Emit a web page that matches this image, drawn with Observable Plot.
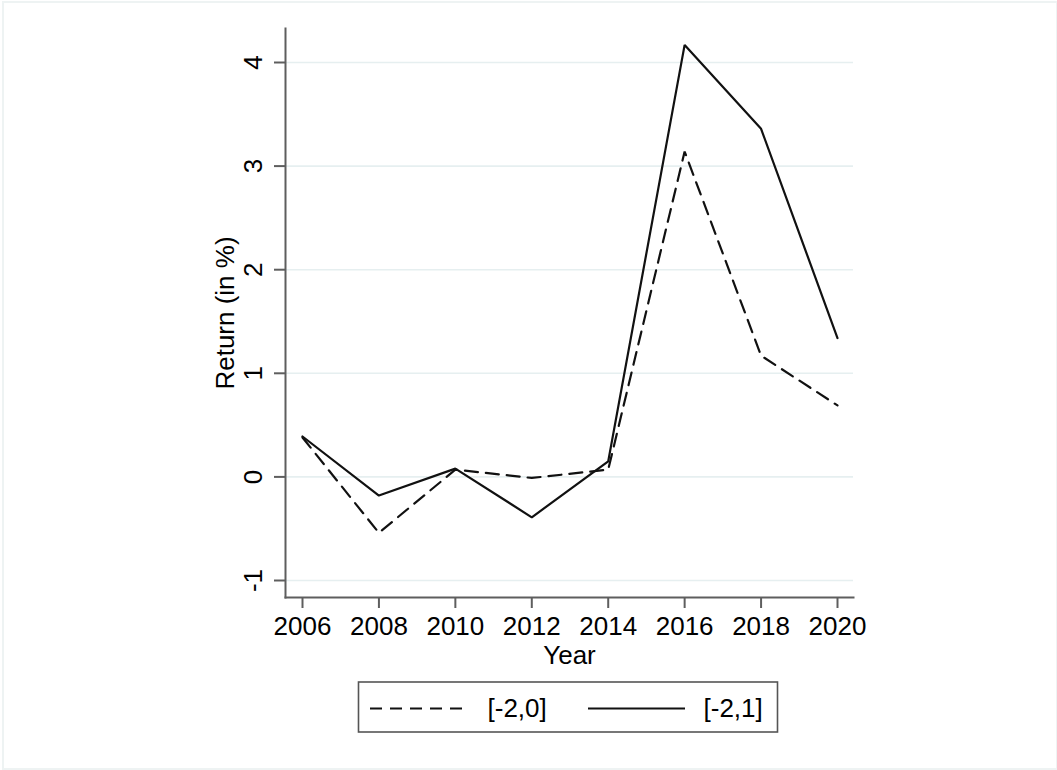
<!DOCTYPE html>
<html>
<head>
<meta charset="utf-8">
<script src="https://cdn.jsdelivr.net/npm/d3@7"></script>
<script src="https://cdn.jsdelivr.net/npm/@observablehq/plot@0.6"></script>
<style>
  html, body { margin: 0; padding: 0; background: #fff; }
  #wrap { position: relative; width: 1057px; height: 770px; overflow: hidden; font-family: "Liberation Sans", Arial, sans-serif; }
  #border { position: absolute; left: 2px; top: 1px; width: 1052px; height: 765px; border: 2px solid #eef3f3; box-sizing: content-box; }
  #chart { position: absolute; left: 0; top: 0; }
  #legend { position: absolute; left: 0; top: 680px; }
</style>
</head>
<body>
<div id="wrap">
  <div id="border"></div>
  <div id="chart"></div>
  <div id="legend"></div>
</div>
<script>
const years = [2006, 2008, 2010, 2012, 2014, 2016, 2018, 2020];
const seriesNames = ["[-2,0]", "[-2,1]"];
const ret20 = [0.38, -0.54, 0.07, -0.01, 0.07, 3.14, 1.17, 0.69];
const ret21 = [0.39, -0.18, 0.08, -0.39, 0.15, 4.17, 3.36, 1.34];
const yTicks = [-1, 0, 1, 2, 3, 4];
const yTickLabels = ["-1", "0", "1", "2", "3", "4"];
const xTicks = [2006, 2008, 2010, 2012, 2014, 2016, 2018, 2020];

const data = [
  ...years.map((y, i) => ({year: y, value: ret20[i], series: seriesNames[0]})),
  ...years.map((y, i) => ({year: y, value: ret21[i], series: seriesNames[1]}))
];

const font = "Liberation Sans, Arial, sans-serif";
const fs = 26;

const plot = Plot.plot({
  width: 1057,
  height: 680,
  marginLeft: 285,
  marginRight: 204,
  marginTop: 28,
  marginBottom: 83,
  style: {fontFamily: font, background: "transparent", overflow: "visible"},
  x: {domain: [2006, 2020], range: [302, 837], axis: null},
  y: {domain: [-1, 4], range: [580, 62], axis: null},
  marks: [
    Plot.gridY(yTicks, {stroke: "#e6eff0", strokeOpacity: 1, strokeWidth: 1.6}),
    Plot.frame({anchor: "left", stroke: "#5e5e5e", strokeWidth: 2}),
    Plot.frame({anchor: "bottom", stroke: "#5e5e5e", strokeWidth: 2}),
    Plot.axisX(xTicks, {tickSize: 11, stroke: "#5e5e5e", strokeWidth: 2, tickFormat: () => "", label: null}),
    Plot.axisY(yTicks, {tickSize: 11, stroke: "#5e5e5e", strokeWidth: 2, tickFormat: () => "", label: null}),
    Plot.text(xTicks, {x: d => d, frameAnchor: "bottom", dy: 29, text: d => String(d), fontSize: fs, fill: "#000", textAnchor: "middle", lineAnchor: "middle"}),
    Plot.text(yTicks, {y: d => d, frameAnchor: "left", dx: -32, rotate: -90, text: (d, i) => yTickLabels[i], fontSize: fs, fill: "#000", textAnchor: "middle", lineAnchor: "middle"}),
    Plot.text(["Year"], {frameAnchor: "bottom", dy: 58, text: d => d, fontSize: fs, fill: "#000", textAnchor: "middle", lineAnchor: "middle"}),
    Plot.text(["Return (in %)"], {frameAnchor: "left", dx: -60, dy: 0, rotate: -90, text: d => d, fontSize: fs, fill: "#000", textAnchor: "middle", lineAnchor: "middle"}),
    Plot.line(data.filter(d => d.series === seriesNames[0]), {x: "year", y: "value", stroke: "#111", strokeWidth: 2.2, strokeDasharray: "13,8", strokeLinejoin: "miter"}),
    Plot.line(data.filter(d => d.series === seriesNames[1]), {x: "year", y: "value", stroke: "#111", strokeWidth: 2.2, strokeLinejoin: "miter"})
  ]
});
document.getElementById("chart").appendChild(plot);

// Legend
const legendItems = [
  {name: seriesNames[0], x: 370, tx: 487},
  {name: seriesNames[1], x: 588, tx: 703}
];
const legend = Plot.plot({
  width: 1057,
  height: 90,
  margin: 0,
  style: {fontFamily: font, background: "transparent"},
  x: {domain: [0, 1057], range: [0, 1057], axis: null},
  y: {domain: [0, 90], range: [0, 90], axis: null},
  marks: [
    Plot.rect([0], {x1: 358.5, x2: 777.5, y1: 2, y2: 52, fill: "#fff", stroke: "#555", strokeWidth: 1.6}),
    Plot.ruleY([legendItems[0]], {y: 28, x1: d => d.x, x2: d => d.x + 100, stroke: "#111", strokeWidth: 2.2, strokeDasharray: "12,8"}),
    Plot.ruleY([legendItems[1]], {y: 28, x1: d => d.x, x2: d => d.x + 97, stroke: "#111", strokeWidth: 2.2}),
    Plot.text(legendItems, {x: "tx", y: 28, text: "name", textAnchor: "start", fontSize: fs, fill: "#000", lineAnchor: "middle"})
  ]
});
document.getElementById("legend").appendChild(legend);
</script>
</body>
</html>
